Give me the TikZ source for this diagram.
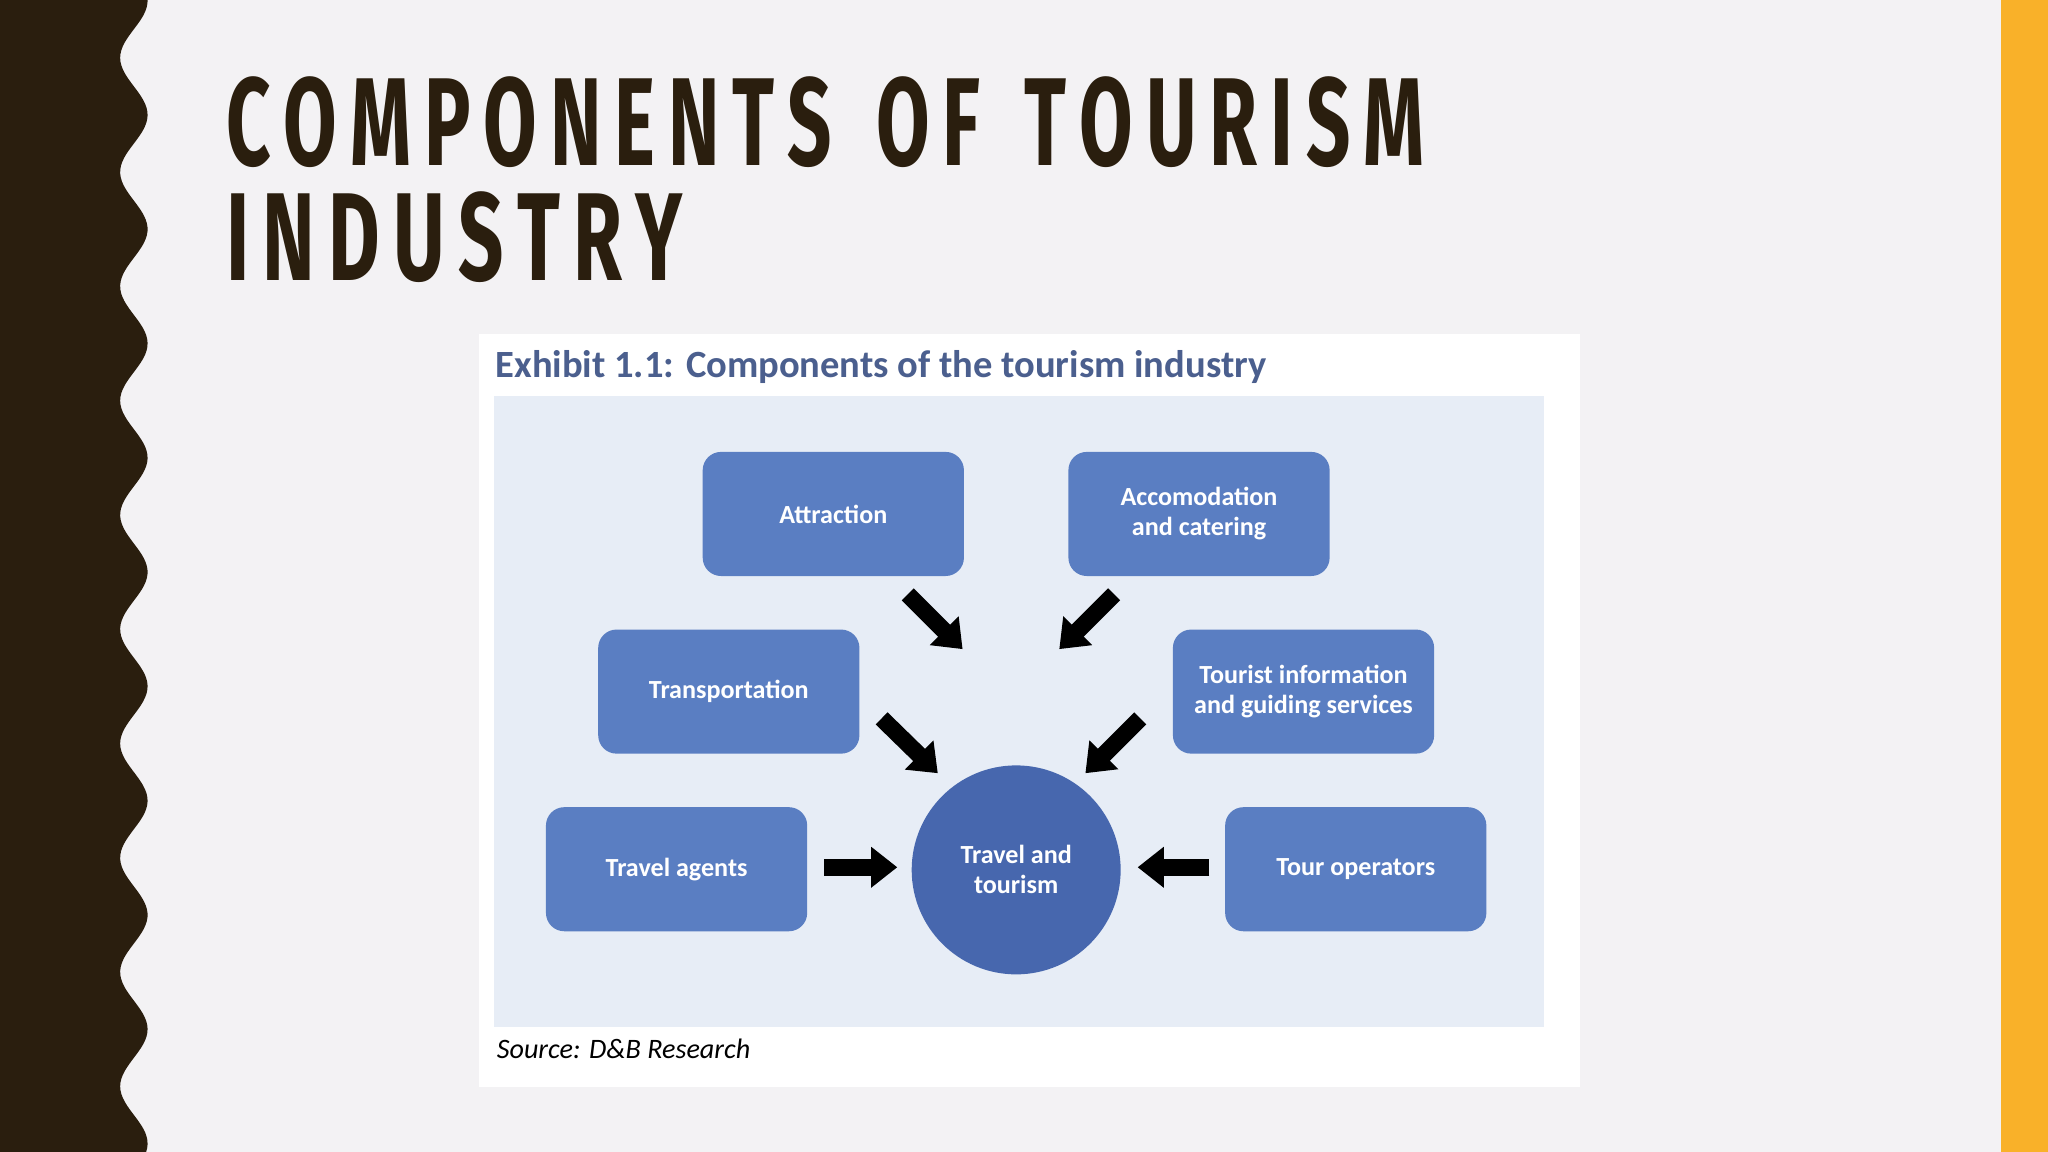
\documentclass[tikz,border=0pt]{standalone}
\usepackage{fontspec}
\setmainfont{Carlito}
\newfontfamily\titlefont{Fira Sans}
\usetikzlibrary{arrows.meta}
\definecolor{bg}{HTML}{F3F2F4}
\definecolor{brownband}{HTML}{2A1E0E}
\definecolor{orangebar}{HTML}{F9B129}
\definecolor{panelblue}{HTML}{E7EDF6}
\definecolor{boxblue}{HTML}{5A7EC2}
\definecolor{circblue}{HTML}{4767AE}
\definecolor{extitle}{HTML}{4B5F8E}
\tikzset{
  comp/.style={draw=none,fill=boxblue,rounded corners=7pt,minimum width=100pt,minimum height=47.5pt,text=white,font=\bfseries\fontsize{10}{11.5}\selectfont,align=center},
  fat/.style={line width=6.5pt,-{Triangle[length=10pt,width=15pt]}}
}
\begin{document}
\begin{tikzpicture}[x=0.5pt,y=-0.5pt]
\useasboundingbox (0,0) rectangle (1568,882);
\fill[bg] (0,0) rectangle (1568,882);
\fill[brownband] (0,0) -- plot[domain=0:882,samples=300,smooth] ({102.5+10.5*cos(((\x-88)/87.5)*360)},\x) -- (0,882) -- cycle;
\fill[orangebar] (1532,0) rectangle (1568,882);
\node[anchor=south west,inner sep=0,text=brownband] (t1) at (173,129) {\resizebox{458.5pt}{34pt}{\titlefont\bfseries C\,O\,M\,P\,O\,N\,E\,N\,T\,S\, \,O\,F\, \,T\,O\,U\,R\,I\,S\,M}};
\node[anchor=south west,inner sep=0,text=brownband] (t2) at (173,217) {\resizebox{174.5pt}{34pt}{\titlefont\bfseries I\,N\,D\,U\,S\,T\,R\,Y}};
\fill[white] (367,256) rectangle (1210,832);
\node[anchor=west,inner sep=0,text=extitle] (ex) at (379,281) {\resizebox{295pt}{!}{\bfseries Exhibit 1.1: Components of the tourism industry}};
\fill[panelblue] (378,303) rectangle (1182,786);
\node[comp] (attr) at (638,393.5) {Attraction};
\node[comp] (acc) at (918,393.5) {Accomodation\\and catering};
\node[comp] (trans) at (558,529.5) {Transportation};
\node[comp] (info) at (998,529.5) {Tourist information\\and guiding services};
\node[comp] (agent) at (518,665.5) {Travel agents};
\node[comp] (oper) at (1038,665.5) {Tour operators};
\node[circle,fill=circblue,minimum size=80pt,inner sep=0,text=white,align=center,font=\bfseries\fontsize{10}{11.5}\selectfont] (tt) at (778,666) {Travel and\\tourism};
\coordinate (a1) at (695,455); \coordinate (a2) at (737,497);
\coordinate (b1) at (853,455); \coordinate (b2) at (811,497);
\coordinate (c1) at (675,550); \coordinate (c2) at (718,592);
\coordinate (d1) at (873,550); \coordinate (d2) at (831,592);
\coordinate (e1) at (631,664); \coordinate (e2) at (687,664);
\coordinate (f1) at (926,664); \coordinate (f2) at (871,664);
\draw[fat] (a1) -- (a2);
\draw[fat] (b1) -- (b2);
\draw[fat] (c1) -- (c2);
\draw[fat] (d1) -- (d2);
\draw[fat] (e1) -- (e2);
\draw[fat] (f1) -- (f2);
\node[anchor=west,inner sep=0] (src) at (380,803) {\resizebox{97pt}{!}{\itshape Source: D\&B Research}};
\end{tikzpicture}
\end{document}
